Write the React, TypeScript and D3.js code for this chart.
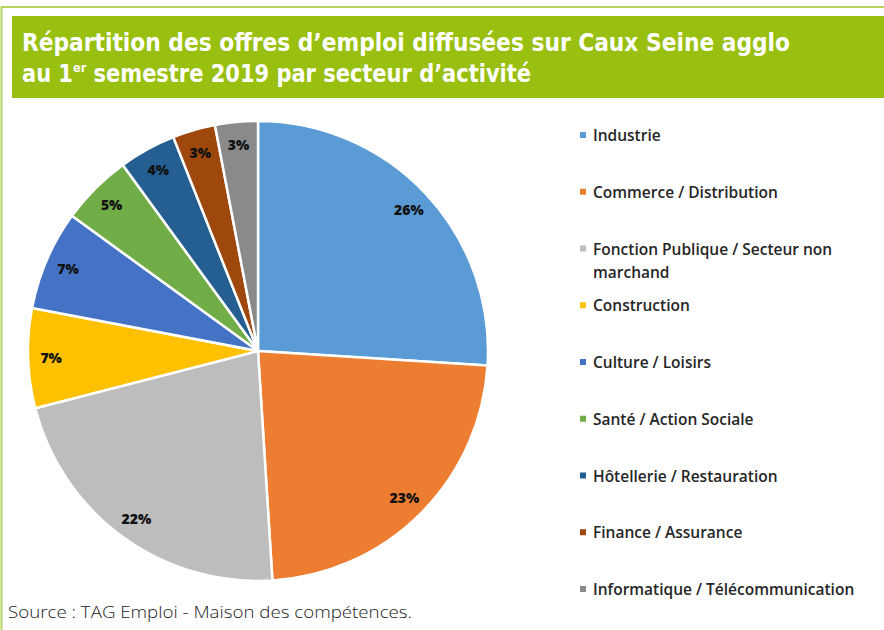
import React from "react";
import * as d3 from "d3";

const categories = [
  "Industrie",
  "Commerce / Distribution",
  "Fonction Publique / Secteur non marchand",
  "Construction",
  "Culture / Loisirs",
  "Santé / Action Sociale",
  "Hôtellerie / Restauration",
  "Finance / Assurance",
  "Informatique / Télécommunication",
];
const values = [26, 23, 22, 7, 7, 5, 4, 3, 3];
const colors = [
  "#5B9BD5",
  "#ED7D31",
  "#BDBDBD",
  "#FFC000",
  "#4472C4",
  "#70AD47",
  "#255E91",
  "#9E480E",
  "#8A8A8A",
];
const legendLines = [
  ["Industrie"],
  ["Commerce / Distribution"],
  ["Fonction Publique / Secteur non", "marchand"],
  ["Construction"],
  ["Culture / Loisirs"],
  ["Santé / Action Sociale"],
  ["Hôtellerie / Restauration"],
  ["Finance / Assurance"],
  ["Informatique / Télécommunication"],
];
const titleLines = ["Répartition des offres d’emploi diffusées sur Caux Seine agglo", "au 1", "er", " semestre 2019 par secteur d’activité"];
const sourceText = "Source : TAG Emploi - Maison des compétences.";

export default function App() {
  const W = 884, H = 630;
  const cx = 258, cy = 351, R = 230;
  const pie = d3.pie<number>().sort(null).value((d) => d)(values);
  const arc = d3.arc<d3.PieArcDatum<number>>().innerRadius(0).outerRadius(R);
  const labelArc = d3.arc<d3.PieArcDatum<number>>().innerRadius(207).outerRadius(207);
  const legendY = d3.scaleLinear().domain([0, 8]).range([135, 589]);
  const legendFont = "'Open Sans', 'Noto Sans', sans-serif";
  return (
    <svg width={W} height={H} style={{ position: "absolute", left: 0, top: 0 }}>
      <rect x={0} y={0} width={W} height={H} fill="#fff" />
      <rect x={1.5} y={7} width={W + 10} height={H + 10} fill="none" stroke="#B5D35A" strokeWidth={2} />
      <rect x={12} y={16} width={W - 12} height={82} fill="#99BF10" />
      <g fill="#fff" fontFamily="'DejaVu Sans Condensed', 'DejaVu Sans', sans-serif" fontWeight="bold" style={{ fontStretch: "condensed" }}>
        <text x={22} y={51} fontSize={24} textLength={768} lengthAdjust="spacingAndGlyphs">{titleLines[0]}</text>
        <text x={22} y={82} fontSize={24} textLength={509} lengthAdjust="spacingAndGlyphs">
          <tspan>{titleLines[1]}</tspan>
          <tspan fontSize={13} dy={-10}>{titleLines[2]}</tspan>
          <tspan dy={10}>{titleLines[3]}</tspan>
        </text>
      </g>
      <g transform={`translate(${cx},${cy})`}>
        {pie.map((p, i) => (
          <path key={i} d={arc(p) || ""} fill={colors[i]} stroke="#fff" strokeWidth={2.5} strokeLinejoin="round" />
        ))}
        {pie.map((p, i) => {
          const [x, y] = labelArc.centroid(p);
          return (
            <text key={"l" + i} x={x} y={y} textAnchor="middle" dominantBaseline="central" fontFamily={legendFont} fontWeight={800} fontSize={14} fill="#111">
              {values[i]}%
            </text>
          );
        })}
      </g>
      <g fontFamily={legendFont} fontSize={15.5} fontWeight={600} fill="#262626">
        {categories.map((c, i) => (
          <g key={c} transform={`translate(580,${legendY(i)})`}>
            <rect x={0} y={-3} width={6} height={6} fill={colors[i]} />
            {legendLines[i].map((ln, j) => (
              <text key={j} x={13} y={j * 23} dominantBaseline="central">{ln}</text>
            ))}
          </g>
        ))}
      </g>
      <text x={8} y={618} fontFamily="'Open Sans', sans-serif" fontWeight={300} fontSize={17} fill="#222" textLength={404} lengthAdjust="spacingAndGlyphs">{sourceText}</text>
    </svg>
  );
}
